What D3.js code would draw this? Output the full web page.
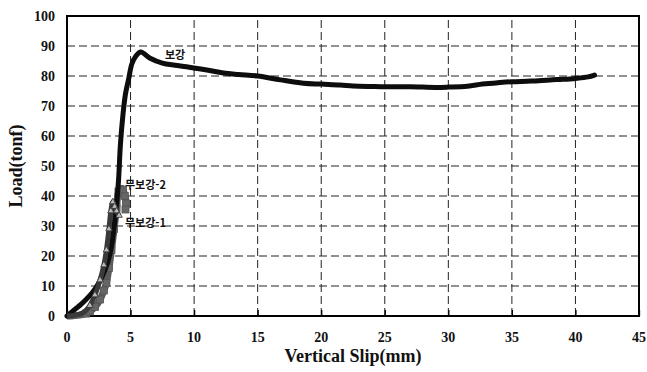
<!DOCTYPE html>
<html lang="ko">
<head>
<meta charset="utf-8">
<title>Load - Vertical Slip</title>
<script src="https://cdn.jsdelivr.net/npm/d3@7"></script>
<style>
  html, body { margin: 0; padding: 0; background: #fff; }
  svg { display: block; }
</style>
</head>
<body>
<div id="chart"></div>
<script>
// tick values
const xTicks = [0, 5, 10, 15, 20, 25, 30, 35, 40, 45];
const yTicks = [0, 10, 20, 30, 40, 50, 60, 70, 80, 90, 100];

// 보강 (reinforced)
const slipReinf = [0, 0.5, 1.0, 1.5, 2.0, 2.5, 3.0, 3.4, 3.8, 4.05, 4.2, 4.4, 4.6, 4.85, 5.1, 5.4, 5.8, 6.5, 7.5, 8.5, 9.4, 11.0, 12.3, 13.5, 15.0, 16.8, 18.6, 20.0, 21.5, 22.5, 24.0, 25.0, 27.0, 29.0, 30.0, 31.5, 32.7, 34.0, 35.0, 36.5, 38.0, 39.0, 40.0, 41.0, 41.5];
const loadReinf = [0, 1.8, 3.5, 5.5, 7.8, 11, 15.5, 21, 33, 45, 57, 67, 74, 79, 84, 86.5, 88, 86, 84.3, 83.6, 83.1, 82, 81, 80.5, 80, 78.7, 77.6, 77.3, 77, 76.7, 76.5, 76.4, 76.4, 76.2, 76.3, 76.6, 77.3, 77.8, 78.1, 78.3, 78.7, 78.9, 79.2, 79.7, 80.3];

// 무보강-2 (squares)
const slipUn2 = [0, 0.5, 1.0, 1.5, 1.8, 2.2, 2.6, 2.9, 3.1, 3.3, 3.5, 3.7, 3.9, 4.05, 4.2, 4.4, 4.55, 4.65, 4.6];
const loadUn2 = [0, 0.1, 0.3, 0.8, 1.5, 3, 5.5, 8.5, 11, 16, 22, 29, 36, 41.5, 42.3, 42, 40, 37.5, 35.5];

// 무보강-1 (triangles)
const slipUn1 = [0, 0.5, 1.0, 1.4, 1.8, 2.2, 2.6, 2.9, 3.1, 3.3, 3.45, 3.6, 3.75, 3.9, 4.1];
const loadUn1 = [0, 0.2, 0.6, 1.5, 3.5, 7, 12, 17, 22, 29, 35, 38, 36.5, 35, 33.5];

// series labels (text, anchor slip, anchor load)
const labelText = ["보강", "무보강-2", "무보강-1"];
const labelSlip = [8.5, 4.56, 4.56];
const labelLoad = [87, 43.7, 31];

const width = 647, height = 372;
const margin = { left: 67, right: 8, top: 16, bottom: 56 };
const serif = '"Liberation Serif", "Times New Roman", serif';

const svg = d3.select("#chart").append("svg")
  .attr("width", width)
  .attr("height", height);

const x = d3.scaleLinear().domain([0, 45]).range([margin.left, width - margin.right]);
const y = d3.scaleLinear().domain([0, 100]).range([height - margin.bottom, margin.top]);

// dashed grid
svg.append("g").selectAll("line")
  .data(yTicks.slice(1, -1))
  .join("line")
  .attr("x1", x(0)).attr("x2", x(45))
  .attr("y1", d => y(d)).attr("y2", d => y(d))
  .attr("stroke", "#222").attr("stroke-width", 1)
  .attr("stroke-dasharray", "8,4");

svg.append("g").selectAll("line")
  .data(xTicks.slice(1, -1))
  .join("line")
  .attr("y1", y(0)).attr("y2", y(100))
  .attr("x1", d => x(d)).attr("x2", d => x(d))
  .attr("stroke", "#222").attr("stroke-width", 1)
  .attr("stroke-dasharray", "8,4");

// axes: inward ticks, labels drawn separately
svg.append("g")
  .attr("transform", `translate(0,${y(0)})`)
  .call(d3.axisTop(x).tickValues(xTicks).tickSize(6).tickFormat(""))
  .call(g => g.select(".domain").remove())
  .selectAll("line").attr("stroke", "#000").attr("stroke-width", 1.3);

svg.append("g").selectAll("text")
  .data(xTicks)
  .join("text")
  .attr("x", d => x(d))
  .attr("y", y(0) + 26)
  .attr("text-anchor", "middle")
  .style("font-family", serif).style("font-weight", "bold").style("font-size", "14px")
  .attr("fill", "#111")
  .text(d => d);

svg.append("g").selectAll("text")
  .data(yTicks)
  .join("text")
  .attr("x", x(0) - 12)
  .attr("y", d => y(d) + 4.5)
  .attr("text-anchor", "end")
  .style("font-family", serif).style("font-weight", "bold").style("font-size", "14px")
  .attr("fill", "#111")
  .text(d => d);

// frame
svg.append("rect")
  .attr("x", x(0)).attr("y", y(100))
  .attr("width", x(45) - x(0)).attr("height", y(0) - y(100))
  .attr("fill", "none").attr("stroke", "#000").attr("stroke-width", 2);

// curves
const line = d3.line()
  .x(d => x(d[0]))
  .y(d => y(d[1]))
  .curve(d3.curveCatmullRom.alpha(0.5));

const un2 = d3.zip(slipUn2, loadUn2);
const un1 = d3.zip(slipUn1, loadUn1);
const reinf = d3.zip(slipReinf, loadReinf);

svg.append("path").datum(un2)
  .attr("d", line).attr("fill", "none")
  .attr("stroke", "#5a5a5a").attr("stroke-width", 7)
  .attr("stroke-linejoin", "round");
svg.append("g").selectAll("rect")
  .data(un2.slice(3))
  .join("rect")
  .attr("x", d => x(d[0]) - 3.5).attr("y", d => y(d[1]) - 3.5)
  .attr("width", 7).attr("height", 7)
  .attr("fill", "#666").attr("stroke", "#555").attr("stroke-width", 0.8);

svg.append("path").datum(reinf)
  .attr("d", line).attr("fill", "none")
  .attr("stroke", "#0d0d0d").attr("stroke-width", 5)
  .attr("stroke-linejoin", "round").attr("stroke-linecap", "round");

svg.append("path").datum(un1)
  .attr("d", line).attr("fill", "none")
  .attr("stroke", "#3a3a3a").attr("stroke-width", 5)
  .attr("stroke-linejoin", "round");
const tri = d3.symbol().type(d3.symbolTriangle).size(18);
svg.append("g").selectAll("path")
  .data(un1.slice(4))
  .join("path")
  .attr("d", tri)
  .attr("transform", d => `translate(${x(d[0])},${y(d[1])})`)
  .attr("fill", "#bbb").attr("stroke", "#333").attr("stroke-width", 0.8);

// series labels
svg.append("g").selectAll("text")
  .data(labelText)
  .join("text")
  .attr("x", (d, i) => x(labelSlip[i]))
  .attr("y", (d, i) => y(labelLoad[i]) + 4)
  .attr("text-anchor", (d, i) => i === 0 ? "middle" : "start")
  .style("font-family", '"Noto Sans CJK KR", sans-serif')
  .style("font-weight", "bold").style("font-size", "11px")
  .attr("fill", "#111")
  .text(d => d);

// axis titles
svg.append("text")
  .attr("x", (x(0) + x(45)) / 2)
  .attr("y", 362)
  .attr("text-anchor", "middle")
  .style("font-family", serif).style("font-weight", "bold").style("font-size", "18px")
  .attr("fill", "#111")
  .text("Vertical Slip(mm)");

svg.append("text")
  .attr("transform", `translate(22,${(y(0) + y(100)) / 2}) rotate(-90)`)
  .attr("text-anchor", "middle")
  .style("font-family", serif).style("font-weight", "bold").style("font-size", "18px")
  .attr("fill", "#111")
  .text("Load(tonf)");
</script>
</body>
</html>
